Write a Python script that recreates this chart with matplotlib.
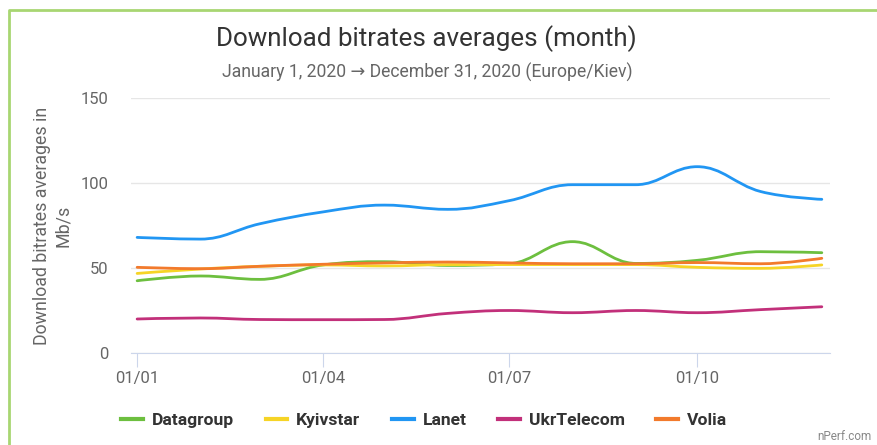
import numpy as np
import matplotlib.pyplot as plt
from matplotlib.path import Path
from matplotlib.patches import PathPatch
from matplotlib.lines import Line2D

plt.rcParams['font.family'] = ['Roboto', 'DejaVu Sans']

# first day of each month of 2020, as day offsets from 01/01
days = [0, 31, 60, 91, 121, 152, 182, 213, 244, 274, 305, 335]
tick_days = [0, 91, 182, 274]
tick_labels = ['01/01', '01/04', '01/07', '01/10']

names = ['Datagroup', 'Kyivstar', 'Lanet', 'UkrTelecom', 'Volia']
colors = ['#6dbf3f', '#f6d426', '#2196f3', '#c2307a', '#f27a2c']

datagroup = [42.5, 45.3, 43.3, 51.8, 53.7, 51.5, 52.5, 65.5, 52.7, 54.5, 59.6, 59.0]
kyivstar = [46.8, 49.4, 51.0, 51.8, 51.2, 52.0, 52.0, 52.0, 52.0, 50.4, 49.8, 51.8]
lanet = [68.0, 67.0, 76.0, 83.0, 87.0, 84.5, 89.6, 99.0, 99.0, 109.6, 95.0, 90.4]
ukrtelecom = [20.0, 20.6, 19.7, 19.6, 19.7, 23.3, 25.0, 23.7, 25.0, 23.7, 25.5, 27.2]
volia = [50.4, 49.6, 51.0, 52.2, 53.0, 53.5, 53.0, 52.5, 52.5, 53.2, 52.5, 55.7]
series = [datagroup, kyivstar, lanet, ukrtelecom, volia]


def spline_path(x, y, smoothing=1.5):
    # highcharts-like spline: cubic bezier through every point
    n = len(x)
    d = smoothing + 1
    lc = [(x[0], y[0])] * n
    rc = [(x[0], y[0])] * n
    for i in range(n):
        px, py = x[i], y[i]
        if i == 0 or i == n - 1:
            lc[i] = (px, py)
            rc[i] = (px, py)
            continue
        lx, ly = x[i - 1], y[i - 1]
        nx, ny = x[i + 1], y[i + 1]
        lcx = (smoothing * px + lx) / d
        lcy = (smoothing * py + ly) / d
        rcx = (smoothing * px + nx) / d
        rcy = (smoothing * py + ny) / d
        corr = (rcy - lcy) * (rcx - px) / (rcx - lcx) + py - rcy
        lcy += corr
        rcy += corr
        if lcy > ly and lcy > py:
            lcy = max(ly, py)
            rcy = 2 * py - lcy
        elif lcy < ly and lcy < py:
            lcy = min(ly, py)
            rcy = 2 * py - lcy
        if rcy > ny and rcy > py:
            rcy = max(ny, py)
            lcy = 2 * py - rcy
        elif rcy < ny and rcy < py:
            rcy = min(ny, py)
            lcy = 2 * py - rcy
        lc[i] = (lcx, lcy)
        rc[i] = (rcx, rcy)
    verts = [(x[0], y[0])]
    codes = [Path.MOVETO]
    for i in range(1, n):
        verts += [rc[i - 1], lc[i], (x[i], y[i])]
        codes += [Path.CURVE4] * 3
    return Path(verts, codes)


fig = plt.figure(figsize=(8.77, 4.45), dpi=100)
ax = fig.add_axes([131 / 877, 1 - 353 / 445, 699 / 877, 255 / 445])

for vals, c in zip(series, colors):
    ax.add_patch(PathPatch(spline_path(days, vals), facecolor='none',
                           edgecolor=c, lw=2.0, capstyle='round', zorder=3))

ax.set_xlim(-3, 339)
ax.set_ylim(0, 150)
ax.set_yticks([0, 50, 100, 150])
ax.set_xticks(tick_days)
ax.set_xticklabels(tick_labels)
ax.grid(axis='y', color='#e6e6e6', lw=1)
ax.set_axisbelow(True)
for s in ['top', 'right', 'left']:
    ax.spines[s].set_visible(False)
ax.spines['bottom'].set_color('#ccd6eb')
ax.tick_params(axis='y', length=0, pad=16, labelsize=12, labelcolor='#666666')
ax.tick_params(axis='x', length=10, color='#ccd6eb', pad=3, labelsize=12,
               labelcolor='#666666')

ax.set_ylabel('Download bitrates averages in\nMb/s', fontsize=12.8,
              color='#666666', labelpad=6, linespacing=1.25)

fig.text(0.486, 1 - 39 / 445, 'Download bitrates averages (month)',
         ha='center', va='center', fontsize=18.7, color='#333333')
fig.text(0.487, 1 - 72 / 445, 'January 1, 2020 \u2192 December 31, 2020 (Europe/Kiev)',
         ha='center', va='center', fontsize=12.7, color='#666666')

handles = [Line2D([], [], color=c, lw=3) for c in colors]
fig.legend(handles, names, loc='center', bbox_to_anchor=(424 / 877, 1 - 420 / 445),
           ncol=5, frameon=False, prop={'weight': 'bold', 'size': 12.6},
           labelcolor='#333333', handlelength=1.25, handletextpad=0.5,
           columnspacing=1.8)

fig.text(872 / 877, 1 - 437 / 445, 'nPerf.com', ha='right', va='center',
         fontsize=8.5, color='#888888')

# light green frame of the screenshot
fig.add_artist(Line2D([9 / 877, 9 / 877, 1], [0, 1 - 10 / 445, 1 - 10 / 445],
                      color='#a8d672', lw=2, transform=fig.transFigure))

plt.savefig('out.png', dpi=100)
